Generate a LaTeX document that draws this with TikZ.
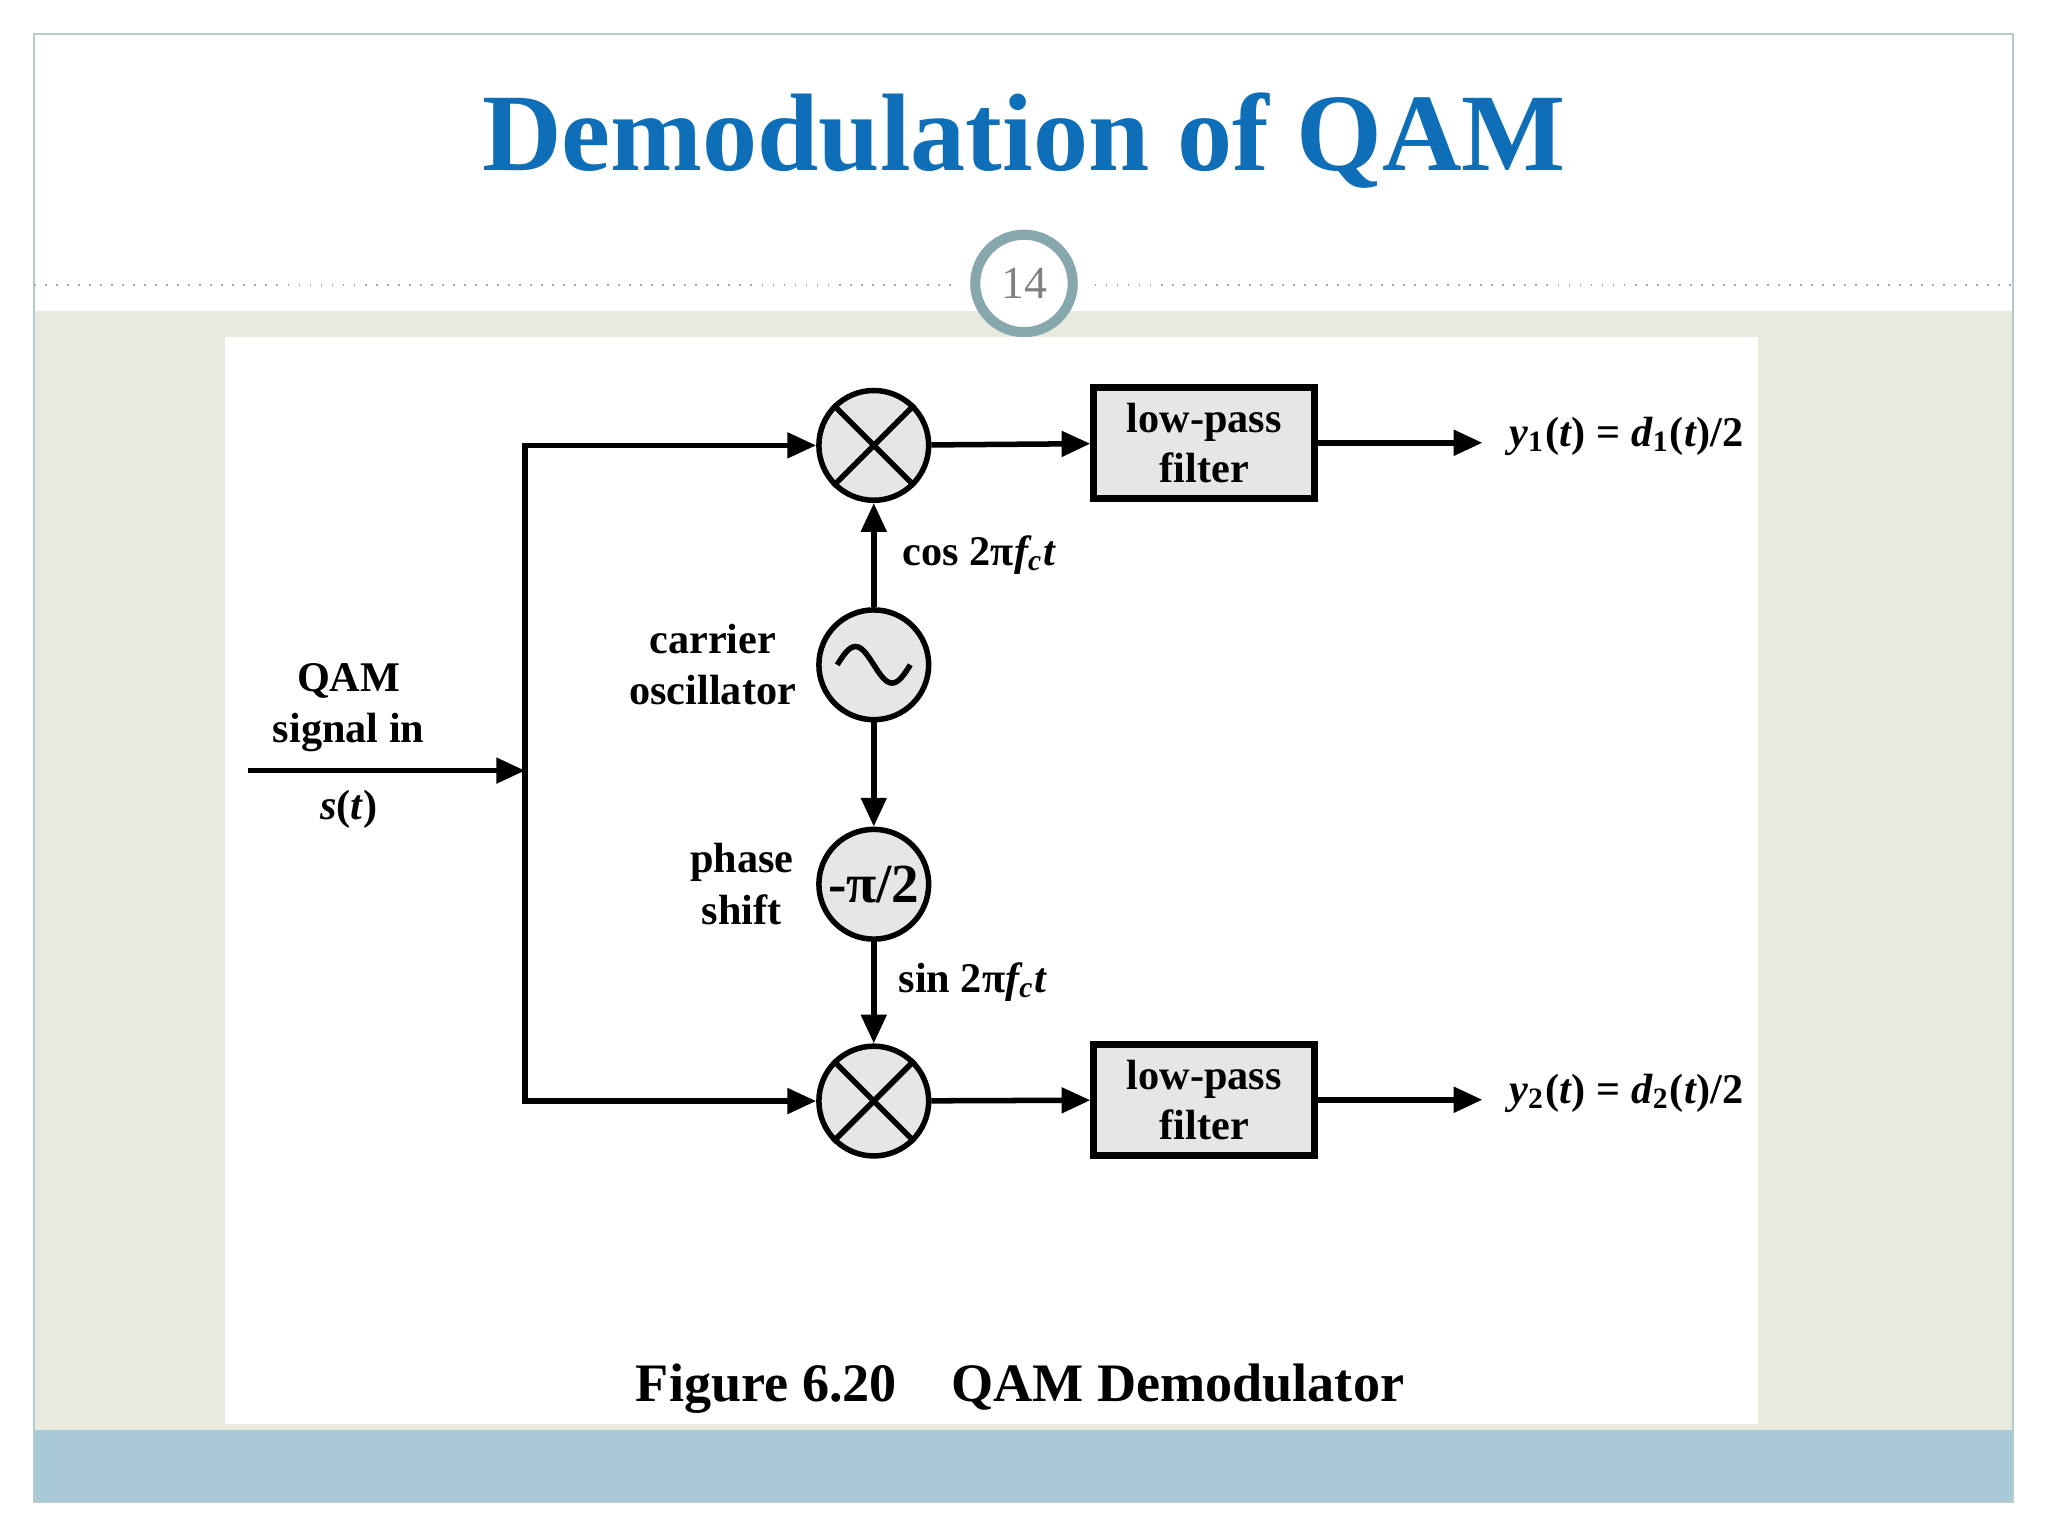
\documentclass[tikz,border=0pt]{standalone}
\usepackage{fontspec}
\setmainfont{Liberation Serif}
\usetikzlibrary{positioning,arrows.meta}
\definecolor{slideblue}{HTML}{0E6EB8}
\definecolor{panelbg}{HTML}{E8E9DF}
\definecolor{bandblue}{HTML}{A8CAD8}
\definecolor{ringcol}{HTML}{86A8AC}
\definecolor{blockgray}{HTML}{E6E6E6}
\begin{document}
\begin{tikzpicture}[x=0.01cm,y=-0.01cm,
>={Triangle[length=0.22cm,width=0.19cm]},
sigline/.style={line width=1.2pt},
roundnode/.style={circle, draw=black, fill=blockgray, line width=1.2pt, minimum size=0.84cm, inner sep=0pt},
filternode/.style={rectangle, draw=black, fill=blockgray, line width=1.5pt, minimum width=1.69cm, minimum height=0.85cm, align=center, font=\fontsize{9.2pt}{10.8pt}\selectfont\bfseries},
lbl/.style={align=center, font=\fontsize{9.2pt}{11.2pt}\selectfont\bfseries},
]
%Slide
\useasboundingbox (0,0) rectangle (1568,1176);
\fill[white] (0,0) rectangle (1568,1176);
\fill[panelbg] (26,238) rectangle (1541,1095);
\fill[bandblue] (26,1095) rectangle (1541,1150);
\draw[ringcol!60, line width=0.5pt] (26,26) rectangle (1541,1150);
\draw[gray!70, dotted] (26,218) -- (730,218) (838,218) -- (1541,218);
\node[circle, draw=ringcol, line width=2.2pt, fill=white, minimum size=0.74cm, text=gray, font=\fontsize{10pt}{12pt}\selectfont] (page) at (784,217) {14};
\node[text=slideblue, font=\fontsize{24pt}{28pt}\selectfont\bfseries] (title) at (784,108) {Demodulation of QAM};
\fill[white] (172,258) rectangle (1346,1090);

%Nodes
\node[roundnode] (mixa) at (669,341) {};
\node[roundnode] (osc) at (669,509) {};
\node[roundnode, font=\fontsize{12pt}{14pt}\selectfont\bfseries] (shift) at (669,677) {-π/2};
\node[roundnode] (mixb) at (669,843) {};
\node[filternode] (lpfa) at (922,339) {low-pass\\filter};
\node[filternode] (lpfb) at (922,842) {low-pass\\filter};
\coordinate (in) at (190,590);
\coordinate (bus) at (402,590);
\coordinate (outa) at (1135,339);
\coordinate (outb) at (1135,842);

%Symbols
\draw[line width=1.2pt] (mixa.north west) -- (mixa.south east) (mixa.north east) -- (mixa.south west);
\draw[line width=1.2pt] (mixb.north west) -- (mixb.south east) (mixb.north east) -- (mixb.south west);
\draw[line width=1.2pt] ([xshift=-0.28cm]osc.center) sin ++(14,-14) cos ++(14,14) sin ++(14,14) cos ++(14,-14);

%Labels
\node[lbl] (qam) at (267,542) {QAM\\signal in};
\node[lbl] (sig) at (267,620) {\textit{s}(\textit{t})};
\node[lbl] (cos) at (750,425) {cos 2π\textit{f\textsubscript{c}t}};
\node[lbl, left=0.03cm of osc] (carrier) {carrier\\oscillator};
\node[lbl, left=0.05cm of shift] (phase) {phase\\shift};
\node[lbl] (sin) at (745,752) {sin 2π\textit{f\textsubscript{c}t}};
\node[lbl, anchor=west] (ya) at (1143,334) {\textit{y}\textsubscript{1}(\textit{t}) = \textit{d}\textsubscript{1}(\textit{t})/2};
\node[lbl, anchor=west] (yb) at (1143,837) {\textit{y}\textsubscript{2}(\textit{t}) = \textit{d}\textsubscript{2}(\textit{t})/2};
\node[font=\fontsize{11.8pt}{14pt}\selectfont\bfseries] (caption) at (781,1063) {Figure 6.20\quad QAM Demodulator};

%Lines
\draw[sigline,->] (in) -- (bus);
\draw[sigline,->] (bus) |- (mixa.west);
\draw[sigline,->] (bus) |- (mixb.west);
\draw[sigline,->] (osc) -- (mixa);
\draw[sigline,->] (osc) -- (shift);
\draw[sigline,->] (shift) -- (mixb);
\draw[sigline,->] (mixa) -- (lpfa);
\draw[sigline,->] (mixb) -- (lpfb);
\draw[sigline,->] (lpfa) -- (outa);
\draw[sigline,->] (lpfb) -- (outb);
\end{tikzpicture}
\end{document}
